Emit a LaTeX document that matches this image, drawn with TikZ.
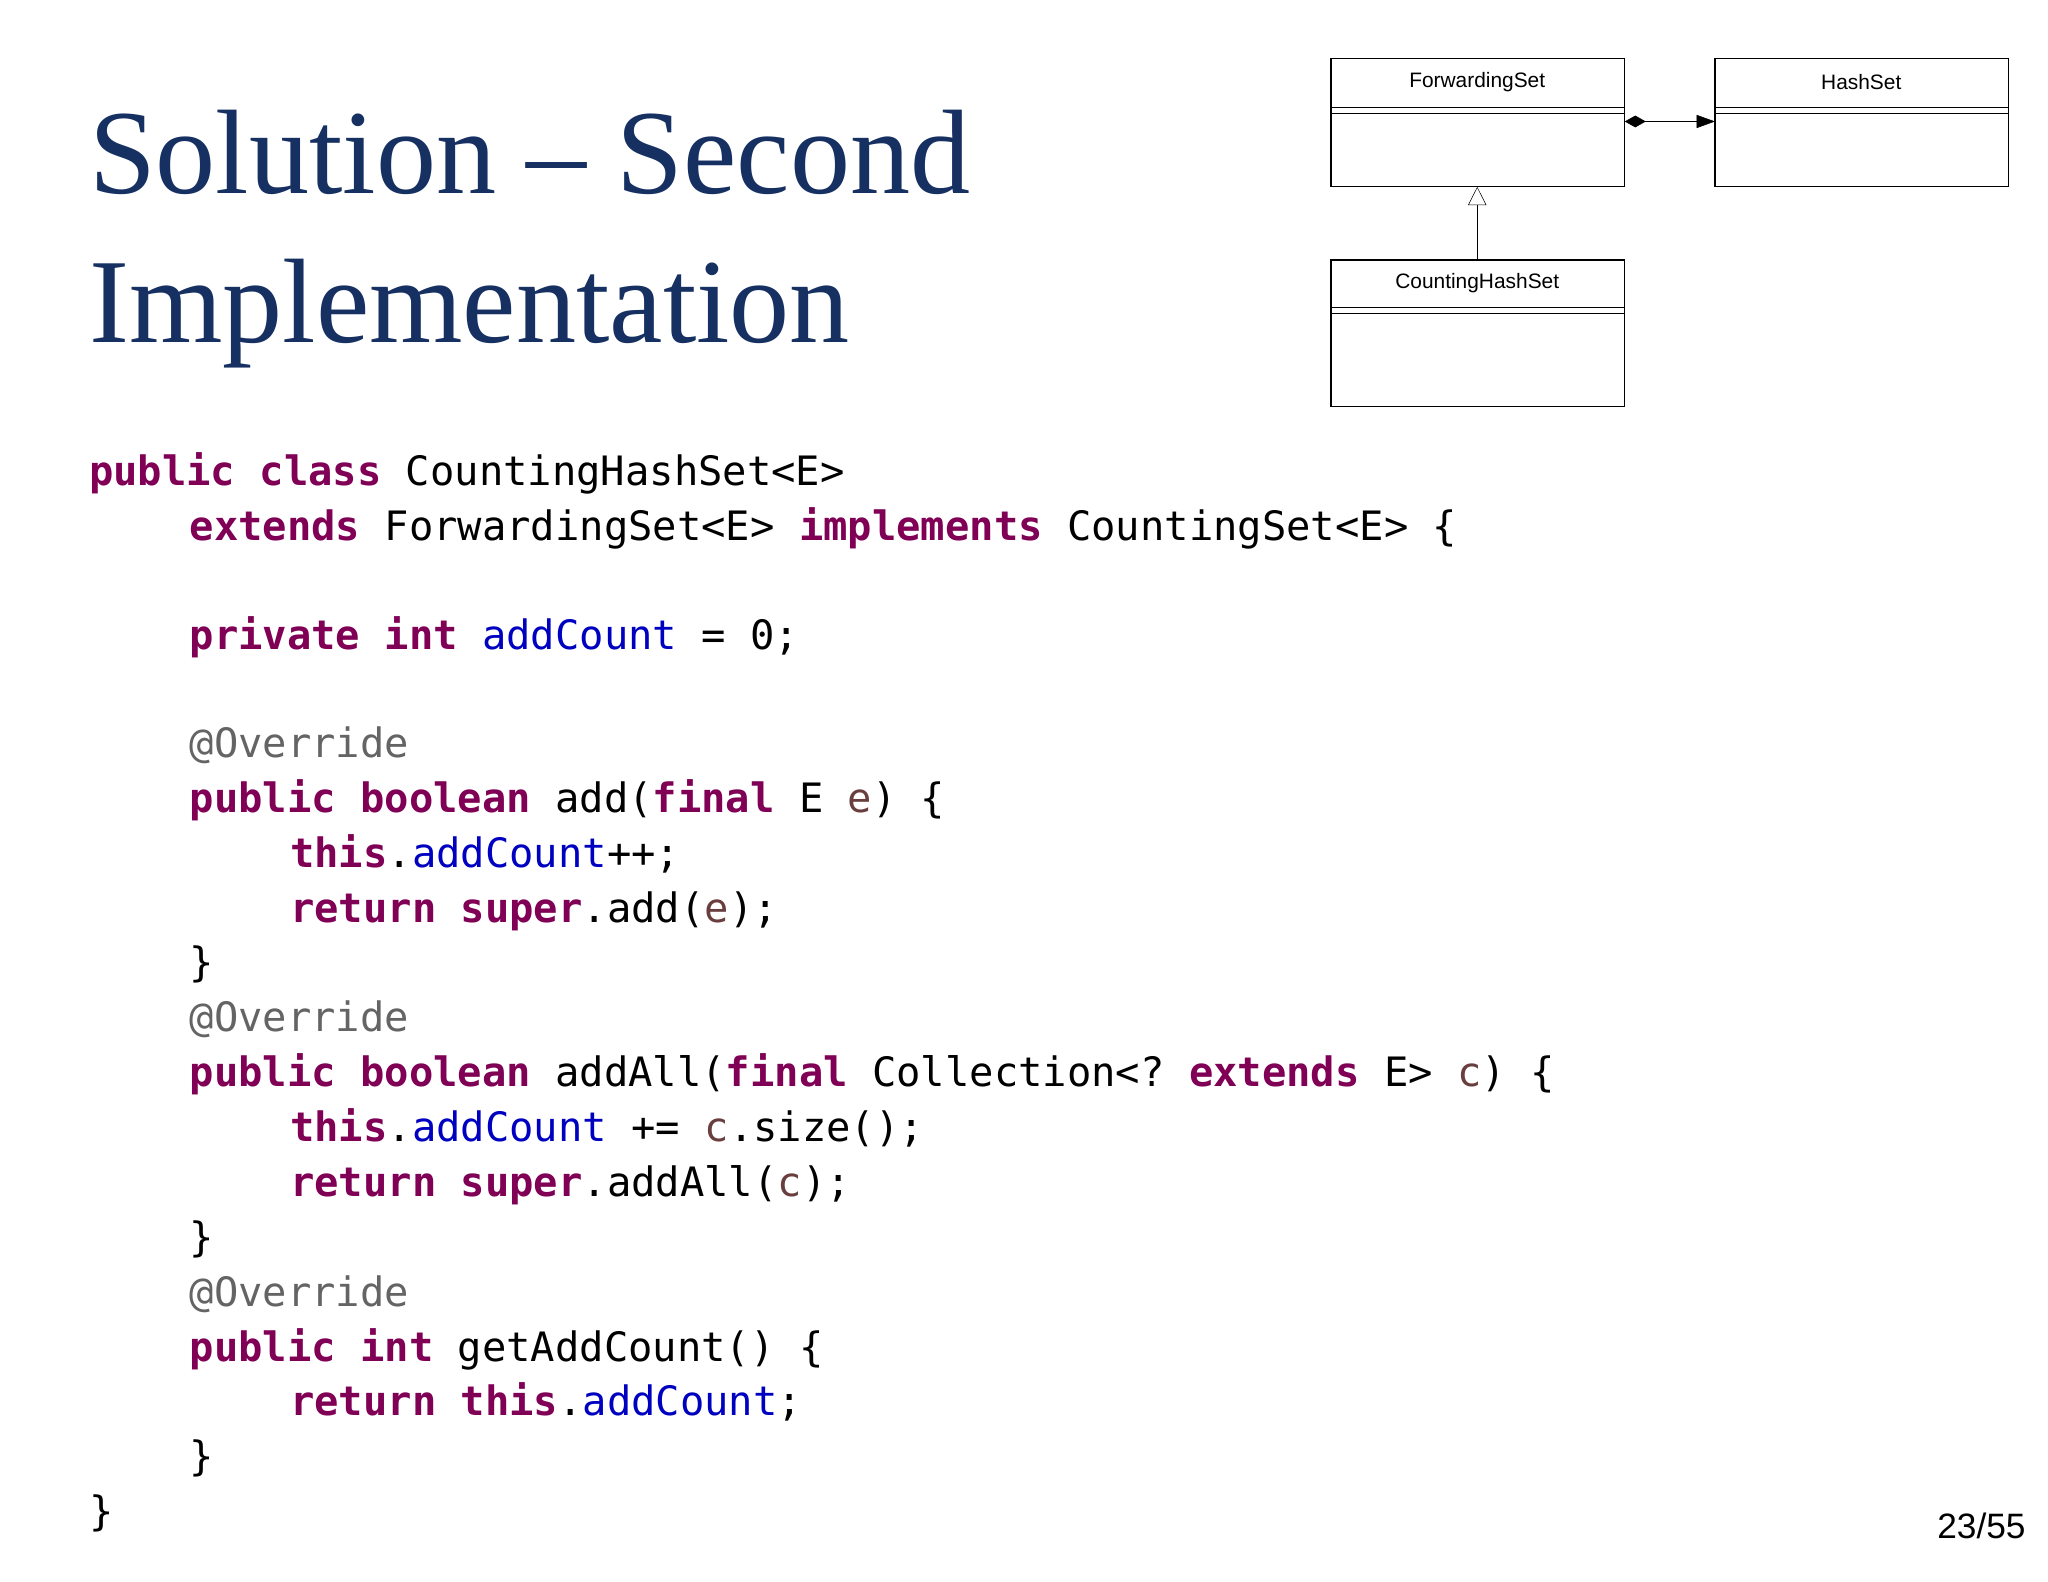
\documentclass[tikz,border=0pt]{standalone}
\usepackage{fontspec}
\setmainfont{Liberation Serif}
\setsansfont{Liberation Sans}
\setmonofont{DejaVu Sans Mono}
\usetikzlibrary{arrows.meta}
\definecolor{navy}{RGB}{22,48,98}
\definecolor{kwc}{RGB}{127,0,85}
\definecolor{fdc}{RGB}{0,0,192}
\definecolor{anc}{RGB}{100,100,100}
\definecolor{pac}{RGB}{106,62,62}
\newcommand{\kw}[1]{\textcolor{kwc}{\bfseries #1}}
\newcommand{\fd}[1]{\textcolor{fdc}{#1}}
\newcommand{\an}[1]{\textcolor{anc}{#1}}
\newcommand{\pa}[1]{\textcolor{pac}{#1}}
\begin{document}
\begin{tikzpicture}[x=1pt,y=1pt,
  code/.style={anchor=base west,inner sep=0pt,font=\fontsize{31}{31}\selectfont\ttfamily},
  title/.style={anchor=base west,inner sep=0pt,text=navy,font=\fontsize{92}{92}\selectfont},
  umlbox/.style={draw,line width=1pt},
  umllbl/.style={inner sep=0pt,font=\fontsize{16}{16}\selectfont\sffamily}]
\useasboundingbox (0,0) rectangle (1568,-1211);
\node[title] (t1) at (68,-148) {Solution – Second};
\node[title] (t2) at (68,-262) {Implementation};
% UML
\draw[umlbox] (1019,-45) rectangle (1244,-143);
\draw (1019,-82) -- (1244,-82) (1019,-87) -- (1244,-87);
\node[umllbl] (fs) at (1131,-63) {ForwardingSet};
\draw[umlbox] (1313,-45) rectangle (1538,-143);
\draw (1313,-82) -- (1538,-82) (1313,-87) -- (1538,-87);
\node[umllbl] (hs) at (1425,-63) {HashSet};
\draw[umlbox] (1019,-199) rectangle (1244,-311);
\draw (1019,-235) -- (1244,-235) (1019,-240) -- (1244,-240);
\node[umllbl] (chs) at (1131,-217) {CountingHashSet};
\coordinate (fsR) at (1244,-93);
\coordinate (hsL) at (1313,-93);
\coordinate (fsB) at (1131,-143);
\coordinate (chsT) at (1131,-199);
\draw[{Diamond[length=16pt,width=9pt]}-{Triangle[length=14pt,width=10pt]}] (fsR) -- (hsL);
\draw[-{Triangle[open,length=14pt,width=14pt]}] (chsT) -- (fsB);
% code
\def\ia{68}\def\ib{145}\def\ic{222}
\node[code] (l1) at (\ia,-372) {\kw{public} \kw{class} CountingHashSet<E>};
\node[code] (l2) at (\ib,-414) {\kw{extends} ForwardingSet<E> \kw{implements} CountingSet<E> \{};
\node[code] (l3) at (\ib,-497) {\kw{private} \kw{int} \fd{addCount} = 0;};
\node[code] (l4) at (\ib,-580) {\an{@Override}};
\node[code] (l5) at (\ib,-622) {\kw{public} \kw{boolean} add(\kw{final} E \pa{e}) \{};
\node[code] (l6) at (\ic,-664) {\kw{this}.\fd{addCount}++;};
\node[code] (l7) at (\ic,-706) {\kw{return} \kw{super}.add(\pa{e});};
\node[code] (l8) at (\ib,-748) {\}};
\node[code] (l9) at (\ib,-790) {\an{@Override}};
\node[code] (l10) at (\ib,-832) {\kw{public} \kw{boolean} addAll(\kw{final} Collection<? \kw{extends} E> \pa{c}) \{};
\node[code] (l11) at (\ic,-874) {\kw{this}.\fd{addCount} += \pa{c}.size();};
\node[code] (l12) at (\ic,-916) {\kw{return} \kw{super}.addAll(\pa{c});};
\node[code] (l13) at (\ib,-958) {\}};
\node[code] (l14) at (\ib,-1000) {\an{@Override}};
\node[code] (l15) at (\ib,-1042) {\kw{public} \kw{int} getAddCount() \{};
\node[code] (l16) at (\ic,-1084) {\kw{return} \kw{this}.\fd{addCount};};
\node[code] (l17) at (\ib,-1126) {\}};
\node[code] (l18) at (\ia,-1168) {\}};
\node[anchor=base east,inner sep=0pt,font=\fontsize{27}{27}\selectfont\sffamily] (pg) at (1551,-1178) {23/55};
\end{tikzpicture}
\end{document}
